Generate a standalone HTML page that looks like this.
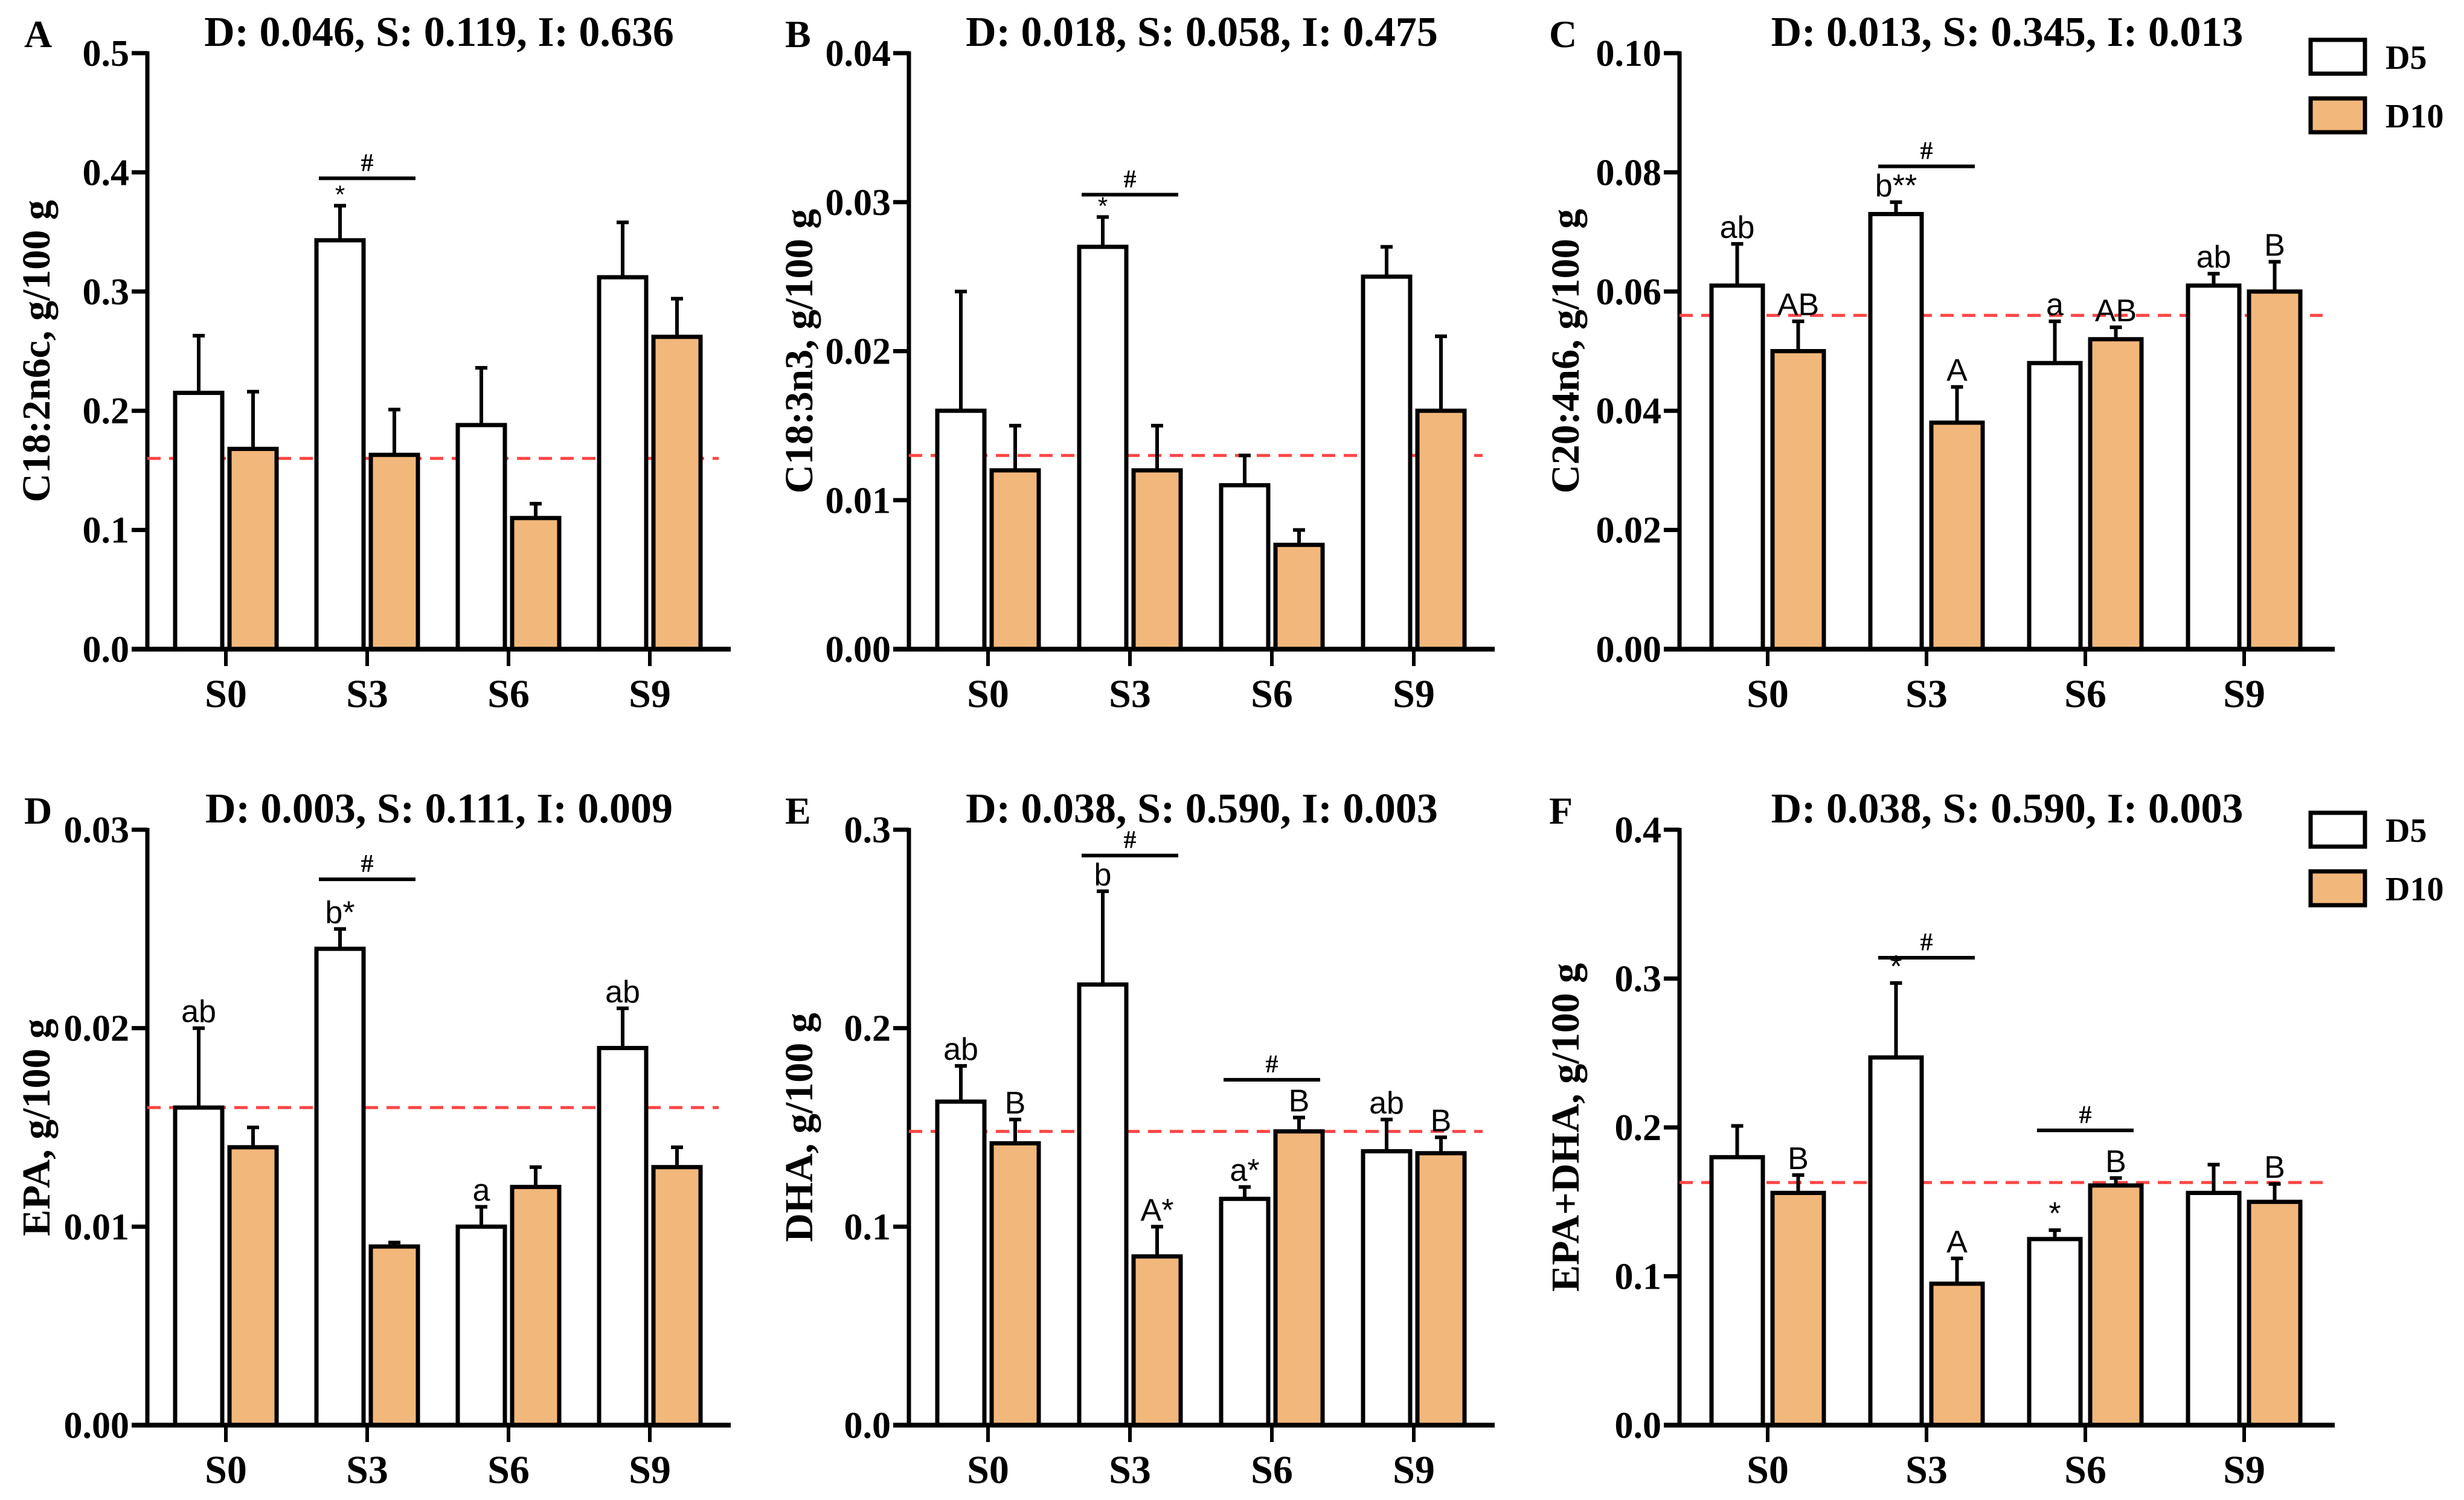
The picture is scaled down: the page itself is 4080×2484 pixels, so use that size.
<!DOCTYPE html>
<html><head><meta charset="utf-8"><style>
html,body{margin:0;padding:0;background:#fff;}
svg{display:block;}
.serif{font-family:"Liberation Serif",serif;font-weight:bold;}
.sans{font-family:"Liberation Sans",sans-serif;}
</style></head>
<body>
<svg id="fig" width="4080" height="2484" viewBox="0 0 4080 2484"></svg>
<script>
const categories = ["S0","S3","S6","S9"];
// Panel A
const aD5 = [0.215,0.343,0.188,0.312];
const aD5err = [0.263,0.372,0.236,0.358];
const aD10 = [0.168,0.163,0.110,0.262];
const aD10err = [0.216,0.201,0.122,0.294];
const aTicks = ["0.0","0.1","0.2","0.3","0.4","0.5"];
// Panel B
const bD5 = [0.016,0.027,0.011,0.025];
const bD5err = [0.024,0.029,0.013,0.027];
const bD10 = [0.012,0.012,0.007,0.016];
const bD10err = [0.015,0.015,0.008,0.021];
const bTicks = ["0.00","0.01","0.02","0.03","0.04"];
// Panel C
const cD5 = [0.061,0.073,0.048,0.061];
const cD5err = [0.068,0.075,0.055,0.063];
const cD10 = [0.050,0.038,0.052,0.060];
const cD10err = [0.055,0.044,0.054,0.065];
const cTicks = ["0.00","0.02","0.04","0.06","0.08","0.10"];
const cLabD5 = ["ab","b**","a","ab"];
const cLabD10 = ["AB","A","AB","B"];
// Panel D
const dD5 = [0.016,0.024,0.010,0.019];
const dD5err = [0.020,0.025,0.011,0.021];
const dD10 = [0.014,0.009,0.012,0.013];
const dD10err = [0.015,0.0092,0.013,0.014];
const dTicks = ["0.00","0.01","0.02","0.03"];
const dLabD5 = ["ab","b*","a","ab"];
// Panel E
const eD5 = [0.163,0.222,0.114,0.138];
const eD5err = [0.181,0.269,0.120,0.154];
const eD10 = [0.142,0.085,0.148,0.137];
const eD10err = [0.154,0.100,0.155,0.145];
const eTicks = ["0.0","0.1","0.2","0.3"];
const eLabD5 = ["ab","b","a*","ab"];
const eLabD10 = ["B","A*","B","B"];
// Panel F
const fD5 = [0.180,0.247,0.125,0.156];
const fD5err = [0.201,0.297,0.131,0.175];
const fD10 = [0.156,0.095,0.161,0.150];
const fD10err = [0.168,0.112,0.166,0.162];
const fTicks = ["0.0","0.1","0.2","0.3","0.4"];
const fLabD5 = ["","*","*",""];
const fLabD10 = ["B","A","B","B"];

const NS="http://www.w3.org/2000/svg";
const svg=document.getElementById('fig');
function mk(tag,attrs,parent,text){
  const e=document.createElementNS(NS,tag);
  for(const k in attrs)e.setAttribute(k,attrs[k]);
  if(text!==undefined)e.textContent=text;
  (parent||svg).appendChild(e);return e;
}
function panel(o){
  const g=mk('g',{});
  
  
  const ymax=o.max;
  const Y=v=>o.y0-(v/ymax)*(o.y0-o.ytop);
  const X=i=>o.ax+o.off+o.sp*i;
  const ya=mk('line',{x1:o.ax,y1:o.ytop-3,x2:o.ax,y2:o.y0,stroke:'#000','stroke-width':7},g);
  
  
  o.ticks.forEach((t,i)=>{
    const v=ymax*i/(o.ticks.length-1);
    mk('line',{x1:o.ax-26,y1:Y(v),x2:o.ax,y2:Y(v),stroke:'#000','stroke-width':7},g);
    const tl=mk('text',{x:o.ax-30,y:Y(v)+21,'text-anchor':'end','font-size':62,class:'serif'},g,t);
    
    
  });
  const rl=mk('line',{x1:o.ax,y1:Y(o.ref),x2:o.ax+o.len-20,y2:Y(o.ref),stroke:'#FF4545','stroke-width':5,'stroke-dasharray':'22 14'},g);
  
  
  const bw=o.bw;
  function bar(vals,errs,i,left,fill,name,lab){
    const x=left?X(i)-o.gap-bw:X(i)+o.gap;
    const cx=x+bw/2;
    mk('line',{x1:cx,y1:Y(errs[i]),x2:cx,y2:Y(vals[i]),stroke:'#000','stroke-width':6},g);
    mk('line',{x1:cx-10,y1:Y(errs[i]),x2:cx+10,y2:Y(errs[i]),stroke:'#000','stroke-width':6},g);
    const r=mk('rect',{x:x,y:Y(vals[i]),width:bw,height:o.y0-Y(vals[i]),fill:fill,stroke:'#000','stroke-width':7},g);
    
    
    if(lab&&lab[i]){
      const t=mk('text',{x:cx,y:Y(errs[i])-10,'text-anchor':'middle','font-size':52,class:'sans'},g,lab[i]);
      
      
    }
  }
  categories.forEach((c,i)=>{
    bar(o.d5,o.d5e,i,true,'#fff','bar-d5-'+c.toLowerCase(),o.lab5);
    bar(o.d10,o.d10e,i,false,'#F2B77B','bar-d10-'+c.toLowerCase(),o.lab10);
    mk('line',{x1:X(i),y1:o.y0,x2:X(i),y2:o.y0+28,stroke:'#000','stroke-width':6},g);
    const xl=mk('text',{x:X(i),y:o.y0+96,'text-anchor':'middle','font-size':66,class:'serif'},g,c);
    
    
  });
  const xa=mk('line',{x1:o.ax-26,y1:o.y0,x2:o.ax+o.len,y2:o.y0,stroke:'#000','stroke-width':8},g);
  
  
  (o.stars||[]).forEach(i=>{
    const cx=X(i)-o.gap-bw/2;
    mk('text',{x:cx,y:Y(o.d5e[i])-4,'text-anchor':'middle','font-size':42,class:'sans'},g,'*');
  });
  (o.hash||[]).forEach(h=>{
    const cx=X(h[0]);
    const hl=mk('line',{x1:cx-80,y1:Y(h[1]),x2:cx+80,y2:Y(h[1]),stroke:'#000','stroke-width':6},g);
    
    
    mk('text',{x:cx,y:Y(h[1])-12,'text-anchor':'middle','font-size':42,class:'serif'},g,'#');
  });
  const tt=mk('text',{x:o.ax+o.len/2,y:o.ytop-12,'text-anchor':'middle','font-size':70,class:'serif'},g,o.title);
  
  
  const pl=mk('text',{x:o.lx,y:o.ytop-10,'font-size':64,class:'serif'},g,o.letter);
  
  
  const yc=(o.y0+o.ytop)/2;
  const yt=mk('text',{x:o.ytx,y:yc,'text-anchor':'middle','font-size':66,class:'serif',transform:`rotate(-90 ${o.ytx} ${yc})`},g,o.ylabel);
  
  
}
const colA={ax:244,off:130,sp:234,bw:78,gap:6,len:966};
const colB={ax:1505,off:131,sp:235,bw:78,gap:6,len:970};
const colC={ax:2781,off:146,sp:263,bw:85,gap:8,len:1085};
const rowTop={y0:1075,ytop:88}, rowBot={y0:2360,ytop:1374};
panel(Object.assign({},colA,rowTop,{letter:'A',lx:40,ytx:82,max:0.5,ticks:aTicks,d5:aD5,d5e:aD5err,d10:aD10,d10e:aD10err,ref:0.16,title:'D: 0.046, S: 0.119, I: 0.636',ylabel:'C18:2n6c, g/100 g',stars:[1],hash:[[1,0.395]]}));
panel(Object.assign({},colB,rowTop,{letter:'B',lx:1300,ytx:1345,max:0.04,ticks:bTicks,d5:bD5,d5e:bD5err,d10:bD10,d10e:bD10err,ref:0.013,title:'D: 0.018, S: 0.058, I: 0.475',ylabel:'C18:3n3, g/100 g',stars:[1],hash:[[1,0.0305]]}));
panel(Object.assign({},colC,rowTop,{letter:'C',lx:2565,ytx:2614,max:0.10,ticks:cTicks,d5:cD5,d5e:cD5err,d10:cD10,d10e:cD10err,ref:0.056,title:'D: 0.013, S: 0.345, I: 0.013',ylabel:'C20:4n6, g/100 g',lab5:cLabD5,lab10:cLabD10,hash:[[1,0.081]]}));
panel(Object.assign({},colA,rowBot,{letter:'D',lx:40,ytx:82,max:0.03,ticks:dTicks,d5:dD5,d5e:dD5err,d10:dD10,d10e:dD10err,ref:0.016,title:'D: 0.003, S: 0.111, I: 0.009',ylabel:'EPA, g/100 g',lab5:dLabD5,hash:[[1,0.0275]]}));
panel(Object.assign({},colB,rowBot,{letter:'E',lx:1300,ytx:1345,max:0.3,ticks:eTicks,d5:eD5,d5e:eD5err,d10:eD10,d10e:eD10err,ref:0.148,title:'D: 0.038, S: 0.590, I: 0.003',ylabel:'DHA, g/100 g',lab5:eLabD5,lab10:eLabD10,hash:[[1,0.287],[2,0.174]]}));
panel(Object.assign({},colC,rowBot,{letter:'F',lx:2565,ytx:2614,max:0.4,ticks:fTicks,d5:fD5,d5e:fD5err,d10:fD10,d10e:fD10err,ref:0.163,title:'D: 0.038, S: 0.590, I: 0.003',ylabel:'EPA+DHA, g/100 g',lab5:fLabD5,lab10:fLabD10,hash:[[1,0.314],[2,0.198]]}));
function legend(y){
  const g=mk('g',{});
  
  
  [['D5','#fff',0],['D10','#F2B77B',97]].forEach(d=>{
    const r=mk('rect',{x:3826,y:y+d[2],width:90,height:56,fill:d[1],stroke:'#000','stroke-width':7},g);
    
    
    const t=mk('text',{x:3950,y:y+d[2]+48,'font-size':56,class:'serif'},g,d[0]);
    
    
  });
}
legend(66);
legend(1346);
</script>
</body></html>
